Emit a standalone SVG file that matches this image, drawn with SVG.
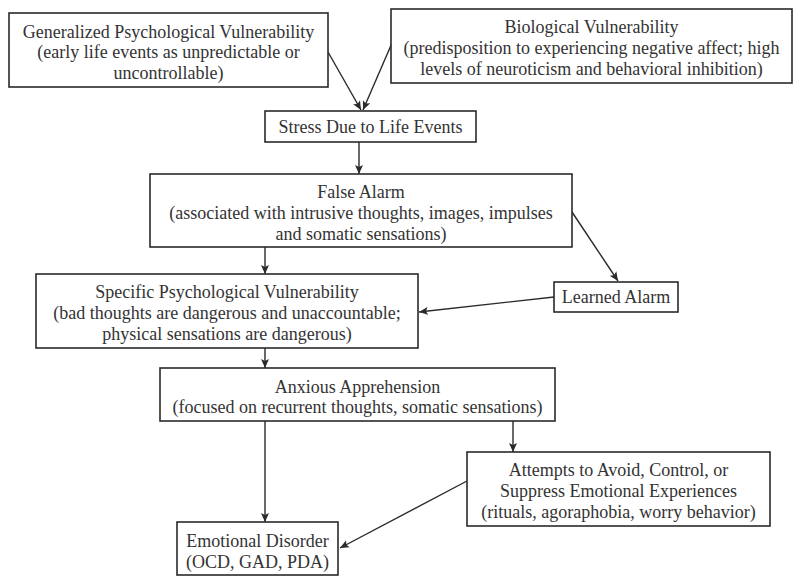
<svg xmlns="http://www.w3.org/2000/svg" width="800" height="585" viewBox="0 0 800 585">
<style>
.box{fill:#fff;stroke:#2a2a2a;stroke-width:1.6}
.t{font-family:'Liberation Serif','DejaVu Serif',serif;font-size:18px;fill:#333;text-anchor:middle}
.c{fill:none;stroke:#2a2a2a;stroke-width:1.4;marker-end:url(#ah)}
</style>
<defs>
<marker id="ah" markerUnits="userSpaceOnUse" markerWidth="10" markerHeight="10" viewBox="0 0 10 10" refX="9" refY="5" orient="auto">
<path d="M0,1 L9,5 L0,9 L2,5 Z" fill="#2a2a2a"/>
</marker>
</defs>
<rect width="800" height="585" fill="#fff"/>
<g id="connectors">
<line class="c" x1="328" y1="52" x2="361" y2="110"/>
<line class="c" x1="392" y1="43" x2="363" y2="110"/>
<line class="c" x1="359" y1="142" x2="359" y2="174"/>
<line class="c" x1="265" y1="247" x2="265" y2="274"/>
<line class="c" x1="572" y1="212" x2="618" y2="281"/>
<line class="c" x1="554" y1="297" x2="419" y2="312"/>
<line class="c" x1="265" y1="348" x2="265" y2="368"/>
<line class="c" x1="265" y1="421" x2="265" y2="522"/>
<line class="c" x1="513" y1="421" x2="513" y2="452"/>
<line class="c" x1="467" y1="481" x2="340" y2="548"/>
</g>
<g id="generalized">
<rect class="box" x="9" y="13" width="319" height="74"/>
<text class="t" x="168.5" y="38">Generalized Psychological Vulnerability</text>
<text class="t" x="168.5" y="58">(early life events as unpredictable or</text>
<text class="t" x="168.5" y="79">uncontrollable)</text>
</g>
<g id="biological">
<rect class="box" x="391" y="9" width="401" height="74"/>
<text class="t" x="591.5" y="33">Biological Vulnerability</text>
<text class="t" x="591.5" y="54">(predisposition to experiencing negative affect; high</text>
<text class="t" x="591.5" y="75">levels of neuroticism and behavioral inhibition)</text>
</g>
<g id="stress">
<rect class="box" x="265" y="111" width="211" height="31"/>
<text class="t" x="370.5" y="133">Stress Due to Life Events</text>
</g>
<g id="false-alarm">
<rect class="box" x="150" y="174" width="422" height="73"/>
<text class="t" x="361" y="198">False Alarm</text>
<text class="t" x="361" y="219">(associated with intrusive thoughts, images, impulses</text>
<text class="t" x="361" y="240">and somatic sensations)</text>
</g>
<g id="specific">
<rect class="box" x="36" y="274" width="382" height="74"/>
<text class="t" x="227" y="298">Specific Psychological Vulnerability</text>
<text class="t" x="227" y="319">(bad thoughts are dangerous and unaccountable;</text>
<text class="t" x="227" y="340">physical sensations are dangerous)</text>
</g>
<g id="learned-alarm">
<rect class="box" x="554" y="282" width="124" height="30"/>
<text class="t" x="616" y="303">Learned Alarm</text>
</g>
<g id="anxious">
<rect class="box" x="160" y="368" width="395" height="53"/>
<text class="t" x="357.5" y="393">Anxious Apprehension</text>
<text class="t" x="357.5" y="413">(focused on recurrent thoughts, somatic sensations)</text>
</g>
<g id="attempts">
<rect class="box" x="467" y="452" width="303" height="74"/>
<text class="t" x="618.5" y="476">Attempts to Avoid, Control, or</text>
<text class="t" x="618.5" y="497">Suppress Emotional Experiences</text>
<text class="t" x="618.5" y="518">(rituals, agoraphobia, worry behavior)</text>
</g>
<g id="emotional">
<rect class="box" x="177" y="522" width="161" height="53"/>
<text class="t" x="257.5" y="547">Emotional Disorder</text>
<text class="t" x="257.5" y="568">(OCD, GAD, PDA)</text>
</g>
</svg>
